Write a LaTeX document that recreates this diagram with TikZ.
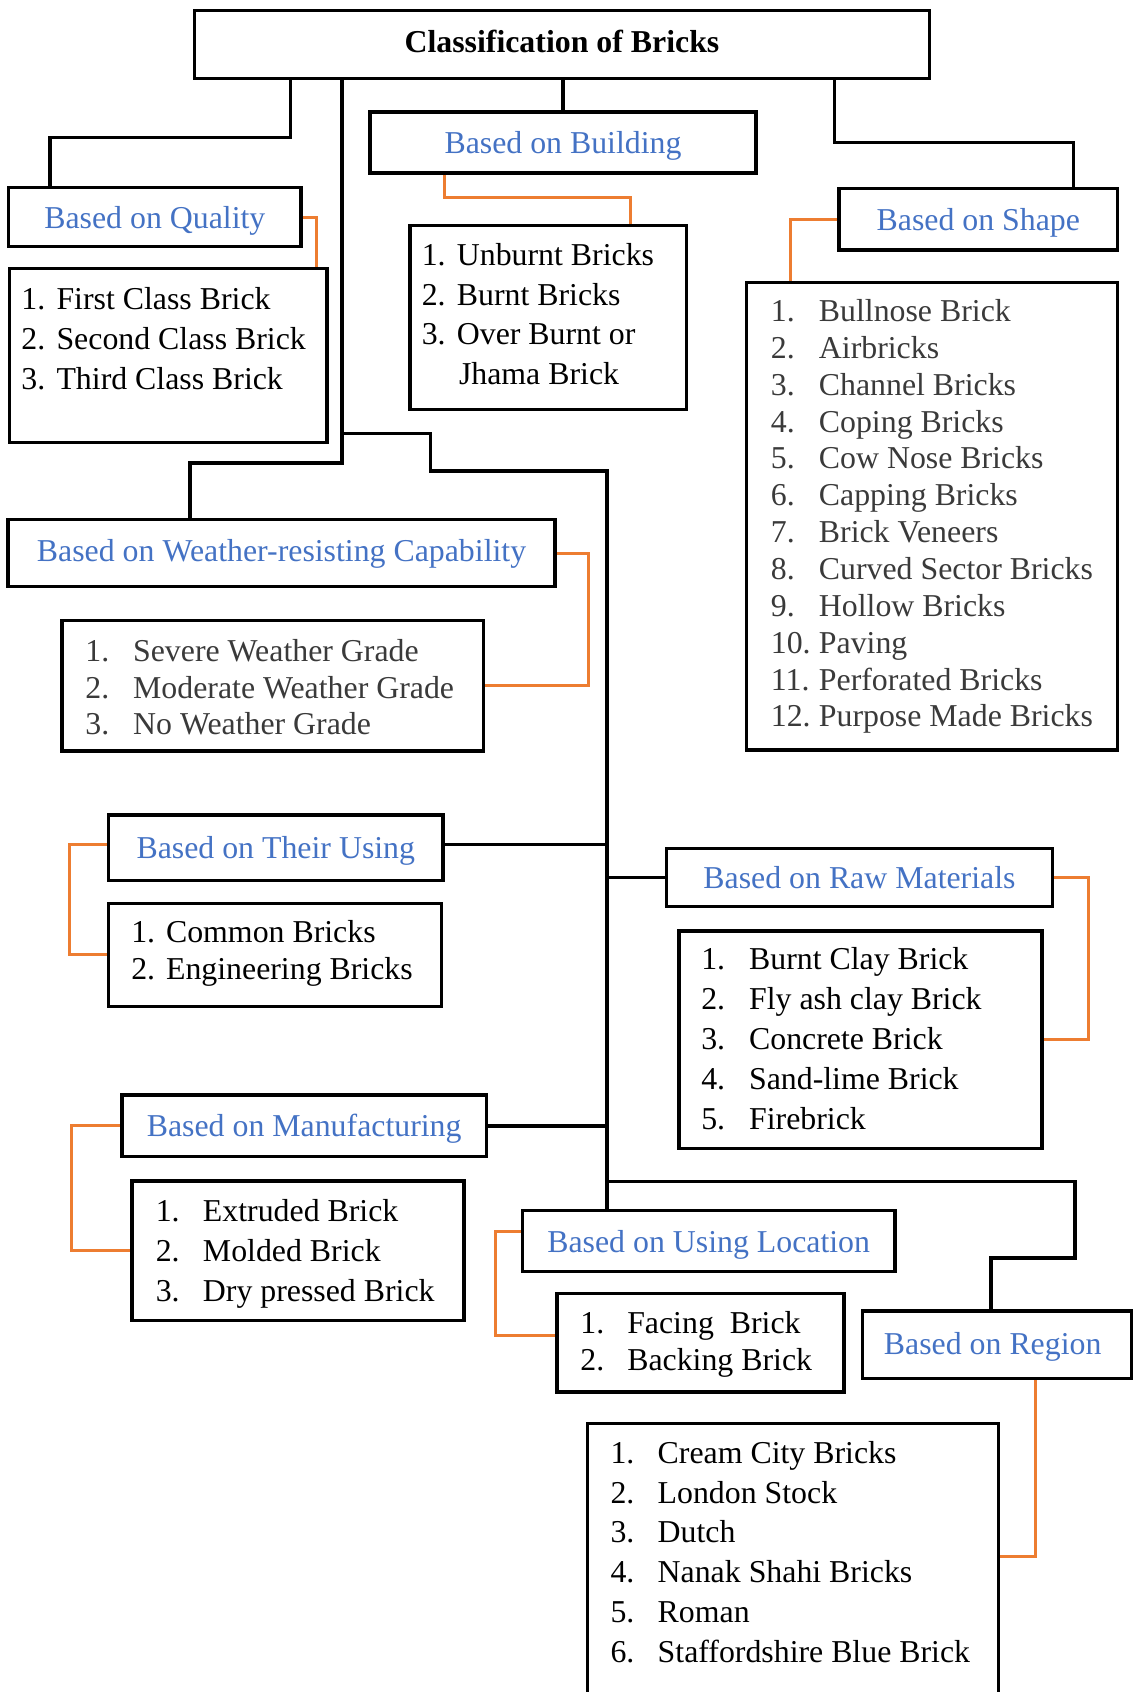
\documentclass[tikz,border=0pt]{standalone}
\usepackage{fontspec}
\setmainfont{Liberation Serif}
\usetikzlibrary{fit}
\definecolor{hblue}{HTML}{4472C4}
\definecolor{lorange}{HTML}{ED7D31}
\definecolor{lgray}{HTML}{3A3A3A}
\begin{document}
\begin{tikzpicture}[x=0.5pt,y=-0.5pt,
  box/.style={draw=black, line width=1.6pt, inner sep=0pt, rectangle},
  htxt/.style={inner sep=0pt, text height=0.66em, text depth=0pt, text=hblue, font=\fontsize{14.75}{18}\selectfont},
  conn/.style={draw=black, line width=1.6pt},
  oc/.style={draw=lorange, line width=1.4pt},
  itm/.style={anchor=base west, inner sep=0pt, font=\fontsize{14.75}{18}\selectfont},
]
\useasboundingbox (0,0) rectangle (1051,1568);
\clip (0,0) rectangle (1051,1568);

% ---------- boxes ----------
\node[box, fit={(180,9.5) (861.5,72.5)}] (title) {};
\node[box, fit={(8,174) (279,228.6)}] (quality) {};
\node[box, fit={(8.7,249) (303,410)}] (qlist) {};
\node[box, fit={(343,104) (700.5,160.5)}] (building) {};
\node[box, fit={(380,209) (636,379.5)}] (blist) {};
\node[box, fit={(777.6,174.6) (1035.6,231.7)}] (shape) {};
\node[box, fit={(692,261.6) (1035.6,695)}] (slist) {};
\node[box, fit={(7.4,481.3) (514.5,543.7)}] (weather) {};
\node[box, fit={(57.6,575.2) (448,696)}] (wlist) {};
\node[box, fit={(100.6,755.3) (410.6,816)}] (using) {};
\node[box, fit={(100.6,837.4) (409,932.5)}] (ulist) {};
\node[box, fit={(617.7,786.1) (975.3,840)}] (raw) {};
\node[box, fit={(629.4,862.9) (965.6,1064.1)}] (rlist) {};
\node[box, fit={(113,1014.8) (450.8,1071.8)}] (manuf) {};
\node[box, fit={(122.3,1094.6) (430,1223.7)}] (mlist) {};
\node[box, fit={(484,1122) (829.5,1178.5)}] (location) {};
\node[box, fit={(516.3,1198.6) (782.2,1289.8)}] (llist) {};
\node[box, fit={(799.3,1215) (1048.6,1277.4)}] (region) {};
\node[box, fit={(544.6,1319) (925.3,1600)}] (glist) {};

% ---------- header texts ----------
\node[htxt, text=black, font=\fontsize{14.75}{18}\selectfont\bfseries] (titleT) at ([yshift=-0.6pt]title.center) {Classification of Bricks};
\node[htxt] (qualityT) at ([yshift=-1.8pt]quality.center) {Based on Quality};
\node[htxt] (buildingT) at ([yshift=-1.8pt]building.center) {Based on Building};
\node[htxt] (shapeT) at ([yshift=-1.8pt]shape.center) {Based on Shape};
\node[htxt] (weatherT) at ([yshift=-0.6pt]weather.center) {Based on Weather-resisting Capability};
\node[htxt] (usingT) at ([yshift=-1.8pt]using.center) {Based on Their Using};
\node[htxt] (rawT) at ([yshift=-1.8pt]raw.center) {Based on Raw Materials};
\node[htxt] (manufT) at ([yshift=-1.8pt]manuf.center) {Based on Manufacturing};
\node[htxt] (locationT) at ([yshift=-1.9pt]location.center) {Based on Using Location};
\node[htxt] (regionT) at ([xshift=-2pt,yshift=-1pt]region.center) {Based on Region};

% ---------- black connectors ----------
\coordinate (tk) at (562.5,436.5);
\coordinate (qj) at (46.3,127.5);
\coordinate (wj) at (176,429);
\coordinate (sj) at (994.7,132);
\coordinate (b1) at (317,401.6);
\coordinate (b2) at (399,436.5);
\coordinate (rj1) at (996.4,1095);
\coordinate (rj2) at (918.3,1166);
\draw[conn] (title.south -| 269,0) |- (qj) -- (qj |- quality.north);
\draw[conn] (title.south -| b1) |- (wj) -- (wj |- weather.north);
\draw[conn] (b1) -| (b2) -- (tk) -- (tk |- location.north);
\draw[conn] (title.south -| building.north) -- (building.north);
\draw[conn] (title.south -| 773.5,0) |- (sj) -- (sj |- shape.north);
\draw[conn] ([yshift=1.4pt]using.east) -- ([yshift=1.4pt]using.east -| tk);
\draw[conn] (raw.west -| tk) -- (raw.west);
\draw[conn] (manuf.east) -- (manuf.east -| tk);
\draw[conn] (rj1 -| tk) -- (rj1) -- (rj1 |- rj2) -- (rj2) -- (rj2 |- region.north);

% ---------- orange connectors ----------
\draw[oc] (quality.east) -| (qlist.north -| 293.6,0);
\draw[oc] (building.south -| 411.6,0) |- (584,183) -- (blist.north -| 584,0);
\draw[oc] (shape.west) -| (slist.north -| 732.3,0);
\draw[oc] (weather.east) -| (wlist.east -| 545,0) -- (wlist.east);
\draw[oc] ([yshift=1.4pt]using.west) -| (ulist.west -| 64.3,0) -- (ulist.west);
\draw[oc] (raw.east) -| (rlist.east -| 1008.8,0) -- (rlist.east);
\draw[oc] (manuf.west) -| (mlist.west -| 66,0) -- (mlist.west);
\draw[oc] (location.west |- 0,1141) -| (459.5,1237.3) -- (llist.west |- 0,1237.3);
\draw[oc] (region.south -| 960,0) |- (glist.east |- 0,1442.7);

% ---------- list texts ----------
\foreach \t [count=\i] in {First Class Brick, Second Class Brick, Third Class Brick}
  {\node[itm] (qn\i) at (19.4,{286.7+37*(\i-1)}) {\i.};
   \node[itm] (qt\i) at (52,{286.7+37*(\i-1)}) {\t};}

\node[itm] (bn1) at (390.5,246.5) {1.};
\node[itm] (bt1) at (423,246.5) {Unburnt Bricks};
\node[itm] (bn2) at (390.5,283) {2.};
\node[itm] (bt2) at (423,283) {Burnt Bricks};
\node[itm] (bn3) at (390.5,319.7) {3.};
\node[itm] (bt3) at (423,319.7) {Over Burnt or};
\node[itm] (bt4) at (425,356) {Jhama Brick};

\foreach \t [count=\i] in {Bullnose Brick, Airbricks, Channel Bricks, Coping Bricks, Cow Nose Bricks, Capping Bricks, Brick Veneers, Curved Sector Bricks, Hollow Bricks, Paving, Perforated Bricks, Purpose Made Bricks}
  {\node[itm, text=lgray] (sn\i) at (714,{298+34.15*(\i-1)}) {\i.};
   \node[itm, text=lgray] (st\i) at (758.5,{298+34.15*(\i-1)}) {\t};}

\foreach \t [count=\i] in {Severe Weather Grade, Moderate Weather Grade, No Weather Grade}
  {\node[itm, text=lgray] (wn\i) at (78.8,{613.2+33.7*(\i-1)}) {\i.};
   \node[itm, text=lgray] (wt\i) at (123,{613.2+33.7*(\i-1)}) {\t};}

\foreach \t [count=\i] in {Common Bricks, Engineering Bricks}
  {\node[itm] (un\i) at (121.3,{873.8+33.5*(\i-1)}) {\i.};
   \node[itm] (ut\i) at (153.5,{873.8+33.5*(\i-1)}) {\t};}

\foreach \t [count=\i] in {Burnt Clay Brick, Fly ash clay Brick, Concrete Brick, Sand-lime Brick, Firebrick}
  {\node[itm] (rn\i) at (649.5,{898.8+36.9*(\i-1)}) {\i.};
   \node[itm] (rt\i) at (693.8,{898.8+36.9*(\i-1)}) {\t};}

\foreach \t [count=\i] in {Extruded Brick, Molded Brick, Dry pressed Brick}
  {\node[itm] (mn\i) at (144,{1132.3+36.8*(\i-1)}) {\i.};
   \node[itm] (mt\i) at (187.7,{1132.3+36.8*(\i-1)}) {\t};}

\node[itm] (ln1) at (537.5,1235.7) {1.};
\node[itm] (lt1) at (580.9,1235.7) {Facing~~Brick};
\node[itm] (ln2) at (537.5,1269.7) {2.};
\node[itm] (lt2) at (580.9,1269.7) {Backing Brick};

\foreach \t [count=\i] in {Cream City Bricks, London Stock, Dutch, Nanak Shahi Bricks, Roman, Staffordshire Blue Brick}
  {\node[itm] (gn\i) at (565.4,{1356.2+36.8*(\i-1)}) {\i.};
   \node[itm] (gt\i) at (609.1,{1356.2+36.8*(\i-1)}) {\t};}
\end{tikzpicture}
\end{document}
